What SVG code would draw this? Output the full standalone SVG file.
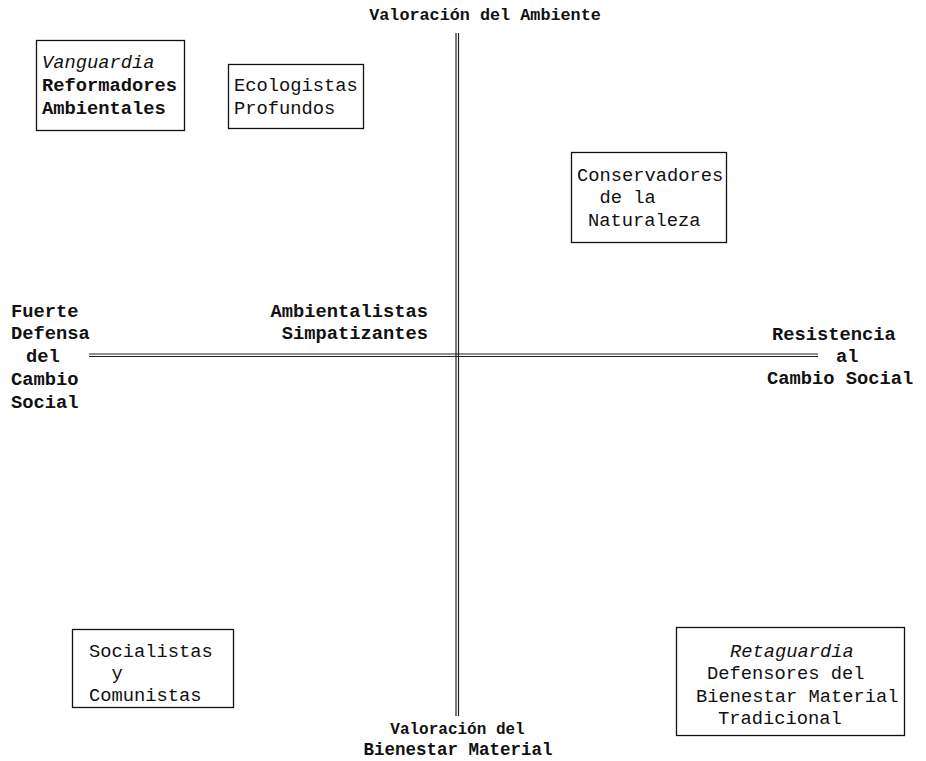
<svg xmlns="http://www.w3.org/2000/svg" width="926" height="761" viewBox="0 0 926 761">
<style>
  text { font-family: "Liberation Mono", "DejaVu Sans Mono", monospace; font-size: 18.75px; fill: #111; }
  .b { font-weight: bold; }
  .i { font-style: italic; }
  .m { text-anchor: middle; }
  .e { text-anchor: end; }
  .box { fill: none; stroke: #111; stroke-width: 1.3; }
  .axis { stroke: #222; stroke-width: 1.2; fill: none; }
</style>
<rect width="926" height="761" fill="#fff"/>
<g id="connectors">
  <line class="axis" x1="456" y1="33" x2="456" y2="716"/>
  <line class="axis" x1="458.5" y1="33" x2="458.5" y2="716"/>
  <line class="axis" x1="89" y1="354" x2="818" y2="354"/>
  <line class="axis" x1="89" y1="356.5" x2="818" y2="356.5"/>
</g>
<g id="title-top">
  <text class="b m" x="485" y="20" style="font-size:16.8px">Valoración del Ambiente</text>
</g>
<g id="title-bottom">
  <text class="b m" x="457.5" y="734" style="font-size:16px">Valoración del</text>
  <text class="b m" x="458" y="755" style="font-size:17.5px">Bienestar Material</text>
</g>
<g id="left-label">
  <text class="b" x="11" y="317">Fuerte</text>
  <text class="b" x="11" y="339">Defensa</text>
  <text class="b" x="26" y="362">del</text>
  <text class="b" x="11" y="385">Cambio</text>
  <text class="b" x="11" y="408">Social</text>
</g>
<g id="right-label">
  <text class="b" x="772" y="340">Resistencia</text>
  <text class="b" x="836" y="362">al</text>
  <text class="b" x="767" y="384">Cambio Social</text>
</g>
<g id="ambientalistas">
  <text class="b e" x="428" y="317">Ambientalistas</text>
  <text class="b e" x="428" y="339">Simpatizantes</text>
</g>
<g id="vanguardia">
  <rect class="box" x="36.5" y="40.5" width="148" height="90"/>
  <text class="i" x="42" y="68">Vanguardia</text>
  <text class="b" x="42" y="91">Reformadores</text>
  <text class="b" x="42" y="114">Ambientales</text>
</g>
<g id="ecologistas">
  <rect class="box" x="228.5" y="64.5" width="135" height="64"/>
  <text x="234" y="91">Ecologistas</text>
  <text x="234" y="114">Profundos</text>
</g>
<g id="conservadores">
  <rect class="box" x="571.5" y="152.5" width="155" height="90"/>
  <text x="577" y="181">Conservadores</text>
  <text x="599.5" y="203">de la</text>
  <text x="588" y="226">Naturaleza</text>
</g>
<g id="socialistas">
  <rect class="box" x="72.5" y="629.5" width="161" height="78"/>
  <text x="89" y="657">Socialistas</text>
  <text x="111.5" y="679">y</text>
  <text x="89" y="701">Comunistas</text>
</g>
<g id="retaguardia">
  <rect class="box" x="676.5" y="627.5" width="228" height="108"/>
  <text class="i" x="730" y="657">Retaguardia</text>
  <text x="707" y="679">Defensores del</text>
  <text x="696" y="702">Bienestar Material</text>
  <text x="718" y="724">Tradicional</text>
</g>
</svg>
